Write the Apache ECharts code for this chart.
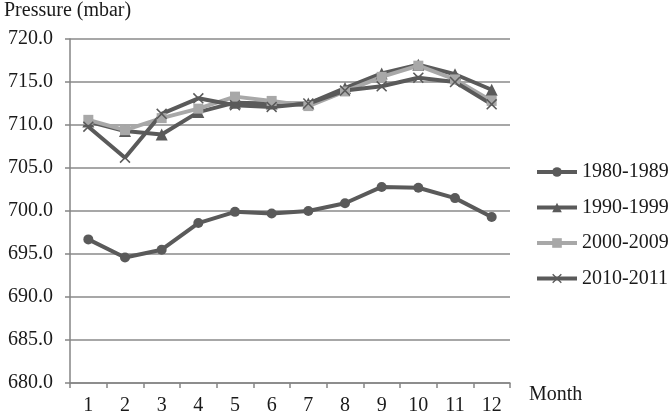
<!DOCTYPE html>
<html>
<head>
<meta charset="utf-8">
<script src="https://cdn.jsdelivr.net/npm/echarts@6/dist/echarts.min.js"></script>
<style>html,body{margin:0;padding:0;background:#fff}#c{width:670px;height:416px}</style>
</head>
<body>
<div id="c"></div>
<script>
var months = ['1','2','3','4','5','6','7','8','9','10','11','12'];
var seriesNames = ['1980-1989','1990-1999','2000-2009','2010-2011'];
var s1980 = [696.7, 694.6, 695.5, 698.6, 699.9, 699.7, 700.0, 700.9, 702.8, 702.7, 701.5, 699.3];
var s1990 = [710.4, 709.3, 708.9, 711.5, 712.6, 712.5, 712.5, 714.3, 716.0, 717.0, 715.9, 714.1];
var s2000 = [710.6, 709.4, 710.8, 711.9, 713.3, 712.8, 712.2, 713.9, 715.6, 716.9, 715.3, 712.8];
var s2010 = [709.8, 706.2, 711.3, 713.1, 712.3, 712.1, 712.5, 714.0, 714.5, 715.5, 715.0, 712.4];
var yTicks = {min: 680, max: 720, interval: 5};

var font = '"Liberation Serif", "DejaVu Serif", serif';
var fs = 20;
var txt = '#1a1a1a';
var dark = '#5a5a5a', light = '#a8a8a8';
var xPath = 'path://M1,0 L5,4 L9,0 L10,1 L6,5 L10,9 L9,10 L5,6 L1,10 L0,9 L4,5 L0,1 Z';
var symbols = ['circle', 'triangle', 'rect', xPath];
var sizes = [10, 12, 10, 11];
var colors = [dark, dark, light, dark];
var datas = [s1980, s1990, s2000, s2010];

var chart = echarts.init(document.getElementById('c'));
chart.setOption({
  animation: false,
  title: {text: 'Pressure (mbar)', left: 4, top: 1, padding: 0, textStyle: {fontFamily: font, fontSize: fs, fontWeight: 'normal', color: txt}},
  grid: {left: 70, top: 39, right: 160, bottom: 33},
  legend: {
    orient: 'vertical', left: 530, top: 157, itemGap: 15.5, itemWidth: 40, itemHeight: 12,
    textStyle: {fontFamily: font, fontSize: fs, color: txt},
    lineStyle: {width: 4},
    data: seriesNames
  },
  xAxis: {
    type: 'category', data: months, boundaryGap: true,
    name: 'Month', nameLocation: 'end', nameGap: 19,
    nameTextStyle: {fontFamily: font, fontSize: fs, color: txt, verticalAlign: 'top', padding: [2,0,0,0]},
    axisLine: {lineStyle: {color: '#858585', width: 1.5}},
    axisTick: {show: true, length: 5, lineStyle: {color: '#858585', width: 1.5}},
    axisLabel: {fontFamily: font, fontSize: fs, color: txt, margin: 13}
  },
  yAxis: {
    type: 'value', min: yTicks.min, max: yTicks.max, interval: yTicks.interval,
    axisLine: {show: true, lineStyle: {color: '#858585', width: 1.5}},
    axisTick: {show: true, length: 5, lineStyle: {color: '#858585', width: 1.5}},
    axisLabel: {fontFamily: font, fontSize: fs, color: txt, margin: 17, formatter: function(v){return v.toFixed(1);}},
    splitLine: {lineStyle: {color: '#8a8a8a', width: 1.5}}
  },
  series: seriesNames.map(function(n, i){
    return {
      name: n, type: 'line', data: datas[i], symbol: symbols[i], symbolSize: sizes[i],
      showAllSymbol: true,
      lineStyle: {color: colors[i], width: 4},
      itemStyle: {color: colors[i]}
    };
  })
});
</script>
</body>
</html>
